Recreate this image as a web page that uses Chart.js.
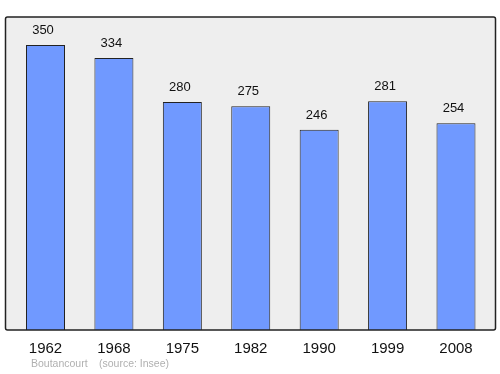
<!DOCTYPE html>
<html><head><meta charset="utf-8">
<script src="https://cdn.jsdelivr.net/npm/chart.js@4/dist/chart.umd.min.js"></script>
<style>html,body{margin:0;padding:0;background:#fff}#w{position:relative;width:500px;height:374px}</style>
</head><body><div id="w"><canvas id="c" width="500" height="374"></canvas></div>
<script>
const years = ["1962","1968","1975","1982","1990","1999","2008"];
const population = [350,334,280,275,246,281,254];
const footerPlace = "Boutancourt";
const footerSource = "(source: Insee)";

const frame = {
  id:'frame',
  beforeDraw(chart){
    const {ctx, chartArea:a} = chart;
    ctx.save();
    const l=5.5, r=495.5, t=a.top, b=a.bottom;
    ctx.fillStyle='#eeeeee';
    ctx.fillRect(l,t,r-l,b-t);
    ctx.restore();
  },
  afterDatasetsDraw(chart){
    const {ctx, chartArea:a} = chart;
    ctx.save();
    const l=5.5, r=495.5, t=a.top, b=a.bottom;
    ctx.strokeStyle='#222';
    ctx.lineWidth=1.5;
    ctx.beginPath();
    ctx.roundRect(l,t,r-l,b-t,2);
    ctx.stroke();
    // value labels
    ctx.fillStyle='#111';
    ctx.font='13px "Liberation Sans", Arial, sans-serif';
    ctx.textAlign='center';
    ctx.textBaseline='middle';
    const meta = chart.getDatasetMeta(0);
    meta.data.forEach((bar,i)=>{
      ctx.fillText(String(population[i]), bar.x-2.5, bar.y-14.5);
    });
    // footer
    ctx.fillStyle='#b0b0b0';
    ctx.font='10.5px "Liberation Sans", Arial, sans-serif';
    ctx.textAlign='left';
    ctx.fillText(footerPlace, 31, 364.5);
    ctx.fillText(footerSource, 99, 364.5);
    ctx.restore();
  }
};

new Chart(document.getElementById('c'), {
  type:'bar',
  data:{labels:years, datasets:[{data:population, backgroundColor:'#7099ff', borderColor:'#222', borderWidth:1, barPercentage:0.57, categoryPercentage:1}]},
  options:{
    responsive:false, animation:false,
    layout:{padding:{left:11.3, right:9.8, top:17, bottom:0}},
    plugins:{legend:{display:false}, tooltip:{enabled:false}},
    scales:{
      y:{display:false, min:0, max:384.5},
      x:{grid:{display:false, drawTicks:false}, border:{display:false},
         ticks:{color:'#111', font:{size:15, family:'"Liberation Sans", Arial, sans-serif'}, padding:10, maxRotation:0},
         afterFit(s){ s.height = 44; }}
    }
  },
  plugins:[frame]
});
</script></body></html>
